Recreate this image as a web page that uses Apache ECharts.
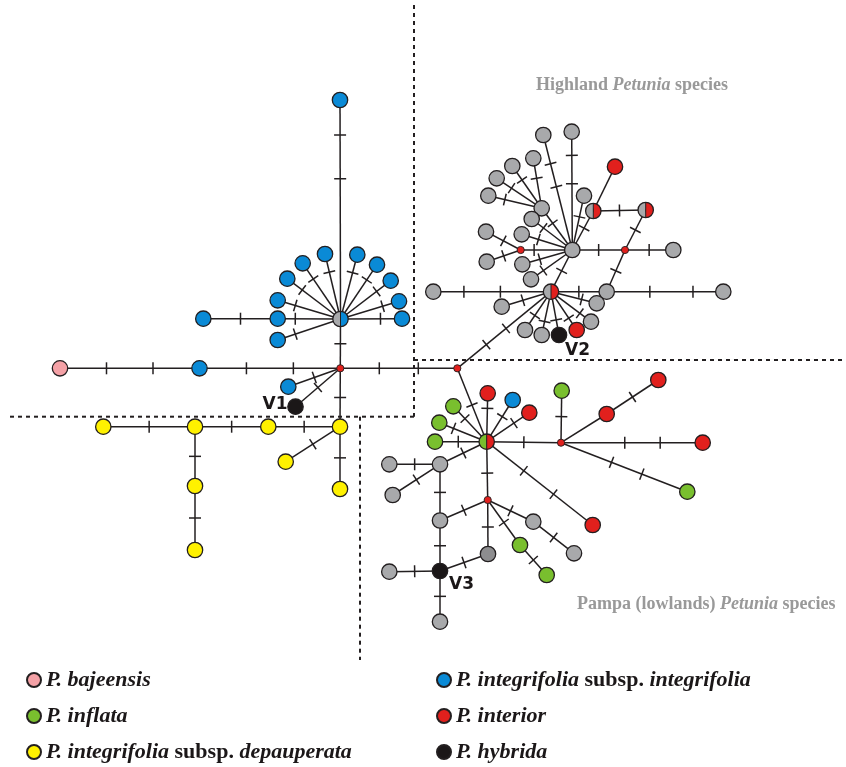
<!DOCTYPE html>
<html><head><meta charset="utf-8">
<script src="https://cdn.jsdelivr.net/npm/echarts@6/dist/echarts.min.js"></script>
<style>html,body{margin:0;padding:0;background:#fff}#c{width:846px;height:767px}</style>
</head><body><div id="c"></div>
<script>
// ---- DATA ----
const speciesNames = ['P. bajeensis','P. inflata','P. integrifolia subsp. depauperata',
                      'P. integrifolia subsp. integrifolia','P. interior','P. hybrida'];
const speciesCodes = ['pk','gr','ye','bl','rd','bk'];

// haplotype nodes: [id, x, y, type]  (type: species code, 'a|b' = shared haplotype, 'rs' = median vector)
const nodesIntegrifolia = [
  ['B0',340.5,319,'gy|bl'],['B1',340,100,'bl'],['B2',325,254,'bl'],['B3',302.7,263.3,'bl'],
  ['B4',287.3,278.7,'bl'],['B5',277.7,300.3,'bl'],['B6',277.7,318.7,'bl'],['B7',277.7,340,'bl'],
  ['B8',203.3,318.7,'bl'],['B9',357.3,254.7,'bl'],['B10',377,264.7,'bl'],['B11',390.7,280.7,'bl'],
  ['B12',399,301.3,'bl'],['B13',402,318.7,'bl'],['J1',340.3,368.3,'rs'],['PK',60,368.3,'pk'],
  ['B14',199.5,368.3,'bl'],['B15',288.3,386.7,'bl'],['V1',295.5,406.7,'bk'],
  ['Y1',340,426.7,'ye'],['Y2',268.3,426.7,'ye'],['Y3',195,426.7,'ye'],['Y4',103.3,426.7,'ye'],
  ['Y5',285.7,461.7,'ye'],['Y6',340,489,'ye'],['Y7',195,486,'ye'],['Y8',195,550,'ye'],
  ['J0',457.3,368.3,'rs']
];
const nodesHighland = [
  ['G1',572.3,250,'gy'],['G2',551,291.7,'gy|rd'],['M',541.7,208.3,'gy'],['T1',571.7,131.7,'gy'],
  ['T2',543.3,135,'gy'],['T3',533.3,158.3,'gy'],['T4',512.3,166,'gy'],['T5',496.7,178.3,'gy'],
  ['T6',488.3,195.7,'gy'],['T7',531.7,219,'gy'],['T8',521.7,234.3,'gy'],['J2',520.7,250,'rs'],
  ['T9',486,231.7,'gy'],['T10',486.7,261.7,'gy'],['T11',522.3,264.3,'gy'],['T12',531,279.3,'gy'],
  ['T13',584,195.7,'gy'],['H1',593.3,211,'gy|rd'],['R1',615,166.7,'rd'],['H2',645.7,210,'gy|rd'],
  ['J3',625,250,'rs'],['T14',673.3,250,'gy'],['T15',606.7,291.7,'gy'],['T16',723.3,291.7,'gy'],
  ['T17',433.3,291.7,'gy'],['T18',501.7,306.7,'gy'],['T19',525,330,'gy'],['T20',541.7,335,'gy'],
  ['V2',559,335,'bk'],['R2',576.7,330,'rd'],['T21',591,321.7,'gy'],['T22',596.7,303.3,'gy']
];
const nodesPampa = [
  ['G3',486.7,441.7,'gr|rd'],['R3',487.7,393.3,'rd'],['BL1',512.7,400,'bl'],['R4',529.3,412.7,'rd'],
  ['GR1',453.3,406.3,'gr'],['GR2',439.3,422.7,'gr'],['GR3',435,441.7,'gr'],['J4',561,442.7,'rs'],
  ['GR4',561.7,390.7,'gr'],['R5',606.7,414,'rd'],['R6',658.3,380,'rd'],['R7',702.7,442.7,'rd'],
  ['GR5',687.3,491.7,'gr'],['R8',592.7,525,'rd'],['J5',487.7,500,'rs'],['P1',440,464.3,'gy'],
  ['P2',389.3,464.3,'gy'],['P3',392.7,495,'gy'],['P4',440,520.5,'gy'],['V3',440,571,'bk'],
  ['P5',389.3,571.7,'gy'],['P6',488,554,'gd'],['P7',440,621.7,'gy'],['P8',533.3,521.7,'gy'],
  ['P9',574,553.3,'gy'],['GR6',520,545,'gr'],['GR7',546.7,575,'gr']
];

// links: [from, to, mutation steps, optional mark fractions from 'from']
const fan = [0.72];
const linksIntegrifolia = [
  ['B0','B1',2,[0.64,0.84]],['B0','B2',1,fan],['B0','B3',1,fan],['B0','B4',1,fan],['B0','B5',1,fan],
  ['B0','B6',1,fan],['B6','B8',1],['B0','B7',1,fan],['B0','B9',1,fan],['B0','B10',1,fan],
  ['B0','B11',1,fan],['B0','B12',1,fan],['B0','B13',1,[0.65]],['B0','J1',1],['PK','B14',2],
  ['B14','J1',2],['J1','J0',2],['J1','B15',1],['J1','V1',1],['J1','Y1',1],['Y1','Y2',1],
  ['Y2','Y3',1],['Y3','Y4',1],['Y1','Y5',1],['Y1','Y6',1],['Y3','Y7',1],['Y7','Y8',1]
];
const linksHighland = [
  ['G1','T1',2,[0.56,0.8]],['G1','T2',2,[0.55,0.75]],['G1','M',1,[0.64]],['M','T3',1,[0.6]],
  ['M','T4',1,[0.67]],['M','T5',1,[0.67]],['M','T6',1,[0.69]],['G1','T7',1,[0.71]],
  ['G1','T8',1,[0.67]],['G1','J2',1,[0.74]],['J2','T9',1],['J2','T10',1],['G1','T11',1,[0.65]],
  ['G1','T12',1,[0.7]],['G1','T13',1,[0.61]],['G1','H1',1,[0.56]],['H1','R1',0],['H1','H2',1],
  ['H2','J3',1],['G1','J3',1],['J3','T14',1],['J3','T15',1],['T15','T16',2,[0.37,0.74]],
  ['G2','T15',1],['G2','T17',2,[0.43,0.74]],['G1','G2',1],['G2','T18',1,[0.57]],
  ['G2','T19',1,[0.62]],['G2','T20',1,[0.69]],['G2','V2',1,[0.65]],['G2','R2',1,[0.69]],
  ['G2','T21',1,[0.72]],['G2','T22',1,[0.67]],['G2','J0',2,[0.48,0.69]]
];
const linksPampa = [
  ['J0','G3',1],['G3','R3',1,[0.69]],['G3','BL1',1,[0.6]],['G3','R4',1,[0.64]],['G3','GR1',1,[0.65]],
  ['G3','GR2',1,[0.7]],['G3','GR3',1,[0.55]],['G3','J4',1],['J4','GR4',1],['J4','R5',0],
  ['R5','R6',1],['J4','R7',2,[0.45,0.7]],['J4','GR5',2,[0.4,0.64]],['G3','R8',2,[0.35,0.63]],
  ['G3','J5',1,[0.54]],['G3','P1',1],['P1','P2',1],['P1','P3',1],['P1','P4',1],['P4','J5',1],
  ['P4','V3',1],['V3','P5',1],['V3','P6',1],['V3','P7',1],['J5','P6',1],['J5','P8',1],
  ['P8','P9',1],['J5','GR6',1],['GR6','GR7',1]
];

// dotted region boundaries: [x1, y1, x2, y2]
const boundaries = [[414,5,414,416.7],[10,416.7,414,416.7],[414,360,846,360],[360,416.7,360,660]];

const regionTitles = ['Highland {i|Petunia} species','Pampa (lowlands) {i|Petunia} species'];
const nodeLabels = {V1:'V1', V2:'V2', V3:'V3'};

// ---- STYLE ----
const palette = {pk:'#f4a1a6', gr:'#79bf2e', ye:'#fff100', bl:'#0a8ad6', rd:'#e1201d',
                 bk:'#1b1718', gy:'#a8a9ab', gd:'#8d8d8f'};
const ink = '#231f20';
const labelPlace = {V1:'left', V2:'below', V3:'belowRight'};

const nodes = nodesIntegrifolia.concat(nodesHighland, nodesPampa);
const links = linksIntegrifolia.concat(linksHighland, linksPampa);
const idx = {}; nodes.forEach((n,i)=>idx[n[0]]=i);
const linkData = links.map(l => {
  const a = nodes[idx[l[0]]], b = nodes[idx[l[1]]];
  return [a[1], a[2], b[1], b[2], l[2]];
});

function renderLink(params, api){
  const a = api.coord([api.value(0), api.value(1)]);
  const b = api.coord([api.value(2), api.value(3)]);
  const n = api.value(4);
  const l = links[params.dataIndex];
  const ch = [{type:'line', shape:{x1:a[0],y1:a[1],x2:b[0],y2:b[1]}, style:{stroke:ink,lineWidth:1.5}}];
  const dx=b[0]-a[0], dy=b[1]-a[1], L=Math.hypot(dx,dy)||1;
  const px=-dy/L*6, py=dx/L*6;
  const fr = l[3] || Array.from({length:n},(_,k)=>(k+1)/(n+1));
  fr.forEach(t=>{
    const cx=a[0]+dx*t, cy=a[1]+dy*t;
    ch.push({type:'line', shape:{x1:cx-px,y1:cy-py,x2:cx+px,y2:cy+py}, style:{stroke:ink,lineWidth:1.5}});
  });
  return {type:'group', children:ch};
}

function renderNode(params, api){
  const nd = nodes[params.dataIndex];
  const c = api.coord([api.value(0), api.value(1)]);
  const t = nd[3];
  const ch = [];
  if (t === 'rs') {
    ch.push({type:'circle', shape:{cx:c[0],cy:c[1],r:3.6}, style:{fill:palette.rd, stroke:ink, lineWidth:0.9}});
  } else {
    const r = 7.7;
    if (t.indexOf('|') >= 0) {
      const [lc, rc] = t.split('|');
      ch.push({type:'sector', shape:{cx:c[0],cy:c[1],r0:0,r:r,startAngle:Math.PI/2,endAngle:Math.PI*1.5,clockwise:true}, style:{fill:palette[lc]}});
      ch.push({type:'sector', shape:{cx:c[0],cy:c[1],r0:0,r:r,startAngle:-Math.PI/2,endAngle:Math.PI/2,clockwise:true}, style:{fill:palette[rc]}});
      ch.push({type:'line', shape:{x1:c[0],y1:c[1]-r,x2:c[0],y2:c[1]+r}, style:{stroke:ink,lineWidth:1}});
      ch.push({type:'circle', shape:{cx:c[0],cy:c[1],r:r}, style:{fill:null, stroke:ink, lineWidth:1.3}});
    } else {
      ch.push({type:'circle', shape:{cx:c[0],cy:c[1],r:r}, style:{fill:palette[t], stroke:ink, lineWidth:1.3}});
    }
  }
  const lab = nodeLabels[nd[0]];
  if (lab) {
    const p = labelPlace[nd[0]];
    let x, y, align;
    if (p === 'left') { x = c[0]-8; y = c[1]-2; align = 'right'; }
    else if (p === 'below') { x = c[0]+6; y = c[1]+16; align = 'left'; }
    else { x = c[0]+9; y = c[1]+14; align = 'left'; }
    ch.push({type:'text', style:{text:lab, x:x, y:y, align:align, verticalAlign:'middle',
      font:'bold 17px "DejaVu Sans"', fill:'#1b1718'}});
  }
  return {type:'group', children:ch};
}

function renderBoundary(params, api){
  const a = api.coord([api.value(0), api.value(1)]);
  const b = api.coord([api.value(2), api.value(3)]);
  return {type:'line', shape:{x1:a[0],y1:a[1],x2:b[0],y2:b[1]},
          style:{stroke:ink, lineWidth:2, lineDash:[4,4]}};
}

function legendFmt(name){
  const m = name.match(/^(.*) subsp\. (.*)$/);
  if (m) return '{i|' + m[1] + '} {n|subsp.} {i|' + m[2] + '}';
  return '{i|' + name + '}';
}
const serif = '"Liberation Serif", "Times New Roman", serif';
const LF = 22;
const legendText = {fontFamily:serif, fontSize:LF, lineHeight:24, color:'#1b1718',
  rich:{i:{fontFamily:serif,fontSize:LF,fontStyle:'italic',fontWeight:'bold',color:'#1b1718'},
        n:{fontFamily:serif,fontSize:LF,fontWeight:'bold',color:'#1b1718'}}};
const titleText = {fontFamily:serif, fontSize:18, fontWeight:'bold', color:'#999999',
  rich:{i:{fontFamily:serif,fontSize:18,fontStyle:'italic',fontWeight:'bold',color:'#999999'}}};

const speciesSeries = speciesNames.map((nm,i)=>({
  name:nm, type:'scatter', data:[], symbol:'circle',
  itemStyle:{color:palette[speciesCodes[i]], borderColor:ink, borderWidth:1, opacity:1}
}));

const chart = echarts.init(document.getElementById('c'), null, {renderer:'canvas'});
chart.setOption({
  animation:false,
  backgroundColor:'#fff',
  grid:{left:0,right:0,top:0,bottom:0},
  xAxis:{type:'value',min:0,max:846,show:false},
  yAxis:{type:'value',min:0,max:767,inverse:true,show:false},
  title:[
    {text:regionTitles[0], left:536, top:76, textStyle:titleText, padding:0},
    {text:regionTitles[1], left:577, top:595, textStyle:titleText, padding:0}
  ],
  legend:[
    {data:speciesNames.slice(0,3), orient:'vertical', left:26, top:668, itemWidth:14, itemHeight:14,
     itemGap:12, icon:'circle', selectedMode:false, formatter:legendFmt, textStyle:legendText, padding:0},
    {data:speciesNames.slice(3), orient:'vertical', left:436, top:668, itemWidth:14, itemHeight:14,
     itemGap:12, icon:'circle', selectedMode:false, formatter:legendFmt, textStyle:legendText, padding:0}
  ],
  series:[
    {type:'custom', renderItem:renderBoundary, data:boundaries, encode:{x:[0,2],y:[1,3]}, clip:false, silent:true, z:1},
    {type:'custom', renderItem:renderLink, data:linkData, encode:{x:[0,2],y:[1,3]}, clip:false, silent:true, z:2},
    {type:'custom', renderItem:renderNode, data:nodes.map(n=>[n[1],n[2]]), encode:{x:0,y:1}, clip:false, silent:true, z:3}
  ].concat(speciesSeries)
});
</script></body></html>
